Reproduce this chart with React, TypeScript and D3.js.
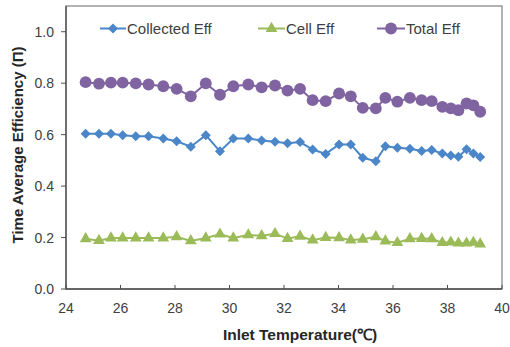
import React from "react";
import * as d3 from "d3";

// Inlet temperature (°C) for each measurement
const temps = [
  24.72, 25.21, 25.65, 26.08, 26.56, 27.03, 27.57, 28.06, 28.58, 29.13, 29.65, 30.14,
  30.69, 31.18, 31.67, 32.13, 32.59, 33.05, 33.53, 34.02, 34.45, 34.89, 35.37, 35.72,
  36.16, 36.62, 37.05, 37.42, 37.81, 38.12, 38.4, 38.7, 38.95, 39.2,
];

const collectedEff = [
  0.603, 0.603, 0.603, 0.598, 0.594, 0.594, 0.585, 0.574, 0.553, 0.598, 0.535, 0.585,
  0.585, 0.577, 0.572, 0.567, 0.571, 0.542, 0.525, 0.562, 0.562, 0.51, 0.497, 0.555,
  0.549, 0.545, 0.536, 0.54, 0.527, 0.519, 0.514, 0.543, 0.527, 0.513,
];

const cellEff = [
  0.195, 0.188, 0.198, 0.198, 0.198, 0.198, 0.198, 0.203, 0.187, 0.198, 0.213, 0.198,
  0.21, 0.207, 0.215, 0.196, 0.205, 0.19, 0.2, 0.199, 0.19, 0.193, 0.203, 0.186,
  0.18, 0.195, 0.196, 0.195, 0.18, 0.182, 0.178, 0.178, 0.181, 0.175,
];

const totalEff = [
  0.804, 0.798, 0.802, 0.802, 0.799, 0.795, 0.788, 0.778, 0.749, 0.799, 0.755, 0.788,
  0.795, 0.784, 0.791, 0.771, 0.778, 0.734, 0.73, 0.76, 0.749, 0.704, 0.702, 0.743,
  0.728, 0.743, 0.734, 0.73, 0.708, 0.702, 0.695, 0.721, 0.714, 0.689,
];

const xTicks = [24, 26, 28, 30, 32, 34, 36, 38, 40];
const yTicks = [0.0, 0.2, 0.4, 0.6, 0.8, 1.0];

const seriesNames = ["Collected Eff", "Cell Eff", "Total Eff"];

const W = 510;
const H = 347;
const plot = { left: 66, right: 502, top: 6, bottom: 289 };
const FONT = "'Liberation Sans', Arial, sans-serif";

const x = d3.scaleLinear().domain([24, 40]).range([plot.left, plot.right]);
const y = d3.scaleLinear().domain([0, 1.1]).range([plot.bottom, plot.top]);

type MarkerKind = "diamond" | "triangle" | "circle";

const series: { name: string; values: number[]; color: string; marker: MarkerKind }[] = [
  { name: seriesNames[0], values: collectedEff, color: "#4a86c8", marker: "diamond" },
  { name: seriesNames[1], values: cellEff, color: "#9bbb59", marker: "triangle" },
  { name: seriesNames[2], values: totalEff, color: "#8064a2", marker: "circle" },
];

const symbolPath: Record<MarkerKind, string> = {
  diamond: d3.symbol().type(d3.symbolSquare).size(50)() as string,
  triangle: d3.symbol().type(d3.symbolTriangle).size(60)() as string,
  circle: d3.symbol().type(d3.symbolCircle).size(110)() as string,
};

function Marker({ kind, cx, cy, color }: { kind: MarkerKind; cx: number; cy: number; color: string }) {
  const rot = kind === "diamond" ? " rotate(45)" : "";
  return <path d={symbolPath[kind]} transform={`translate(${cx},${cy})${rot}`} fill={color} />;
}

export default function App() {
  const line = d3
    .line<[number, number]>()
    .x((d) => x(d[0]))
    .y((d) => y(d[1]));

  const legend = [
    { s: series[0], x0: 100, x1: 126 },
    { s: series[1], x0: 258, x1: 285 },
    { s: series[2], x0: 377, x1: 405 },
  ];

  return (
    <svg
      width={W}
      height={H}
      style={{ position: "absolute", left: 0, top: 0, background: "#fff" }}
      fontFamily={FONT}
    >
      {/* plot frame */}
      <rect
        x={plot.left}
        y={plot.top}
        width={plot.right - plot.left}
        height={plot.bottom - plot.top}
        fill="none"
        stroke="#7f7f7f"
        strokeWidth={1.2}
      />
      {/* axes */}
      <line x1={plot.left} x2={plot.left} y1={plot.top} y2={plot.bottom} stroke="#4d4d4d" strokeWidth={1.3} />
      <line x1={plot.left} x2={plot.right} y1={plot.bottom} y2={plot.bottom} stroke="#4d4d4d" strokeWidth={1.3} />

      {/* y ticks */}
      {yTicks.map((t) => (
        <g key={`y${t}`}>
          <line x1={plot.left - 5} x2={plot.left} y1={y(t)} y2={y(t)} stroke="#4d4d4d" />
          <text x={54} y={y(t)} dy="0.36em" textAnchor="end" fontSize={14} fill="#404040">
            {d3.format(".1f")(t)}
          </text>
        </g>
      ))}

      {/* x ticks */}
      {xTicks.map((t) => (
        <g key={`x${t}`}>
          <line x1={x(t)} x2={x(t)} y1={plot.bottom - 4} y2={plot.bottom} stroke="#4d4d4d" />
          <text x={x(t)} y={313} textAnchor="middle" fontSize={14} fill="#404040">
            {t}
          </text>
        </g>
      ))}

      {/* axis titles */}
      <text x={300} y={340} textAnchor="middle" fontSize={15.5} fontWeight="bold" fill="#262626">
        Inlet Temperature(℃)
      </text>
      <text
        transform={`translate(23,145) rotate(-90)`}
        textAnchor="middle"
        fontSize={15}
        fontWeight="bold"
        fill="#262626"
      >
        Time Average Efficiency (Π)
      </text>

      {/* series */}
      {series.map((s) => {
        const pts: [number, number][] = temps.map((t, i) => [t, s.values[i]]);
        return (
          <g key={s.name}>
            <path d={line(pts) || ""} fill="none" stroke={s.color} strokeWidth={2} />
            {pts.map((p, i) => (
              <Marker key={i} kind={s.marker} cx={x(p[0])} cy={y(p[1])} color={s.color} />
            ))}
          </g>
        );
      })}

      {/* legend */}
      {legend.map(({ s, x0, x1 }) => (
        <g key={`lg-${s.name}`}>
          <line x1={x0} x2={x1} y1={28.5} y2={28.5} stroke={s.color} strokeWidth={2} />
          <Marker kind={s.marker} cx={(x0 + x1) / 2} cy={28.5} color={s.color} />
          <text x={x1 + 1} y={28.5} dy="0.36em" fontSize={15} fill="#404040">
            {s.name}
          </text>
        </g>
      ))}
    </svg>
  );
}
